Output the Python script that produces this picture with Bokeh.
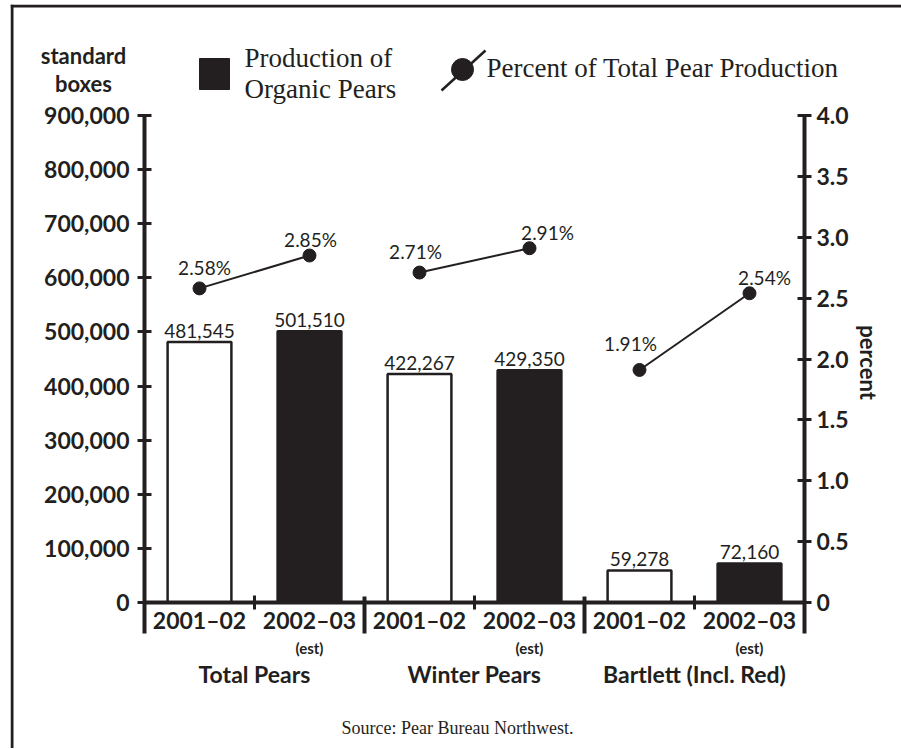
import math
from bokeh.plotting import figure
from bokeh.models import (Range1d, LinearAxis, FixedTicker,
                          NumeralTickFormatter, ColumnDataSource)
from bokeh.core.properties import value
from bokeh.embed import file_html
from bokeh.resources import INLINE

# ---------------- data ----------------
groups = ["Total Pears", "Winter Pears", "Bartlett (Incl. Red)"]
seasons = ["2001–02", "2002–03"]
season_notes = ["", "(est)"]
organic_boxes = [481545, 501510, 422267, 429350, 59278, 72160]
percent_of_total = [2.58, 2.85, 2.71, 2.91, 1.91, 2.54]
box_ticks = [0, 100000, 200000, 300000, 400000, 500000, 600000, 700000, 800000, 900000]
percent_ticks = [0, 0.5, 1.0, 1.5, 2.0, 2.5, 3.0, 3.5, 4.0]
box_max = 900000
percent_max = 4.0

# ---------------- styles / layout ----------------
INK = "#231f20"
SANS_NAME = "Lato"
SANS = value(SANS_NAME)
SERIF = value("Liberation Serif")
season_fill = {"2001–02": "white", "2002–03": INK}
pct_label_dx = [5, 1, -4, 18, -9, 15]
pct_label_dy = [-21, -16, -21, -16, -26, -16]

CX, CY = 10, 4          # canvas origin on the page
W, H = 891, 744
FL, FR = 144, 804       # page x of the two value axes
Y0, YT = 602, 115       # page y of value 0 and of the top tick
AX_BOTTOM = 633

n_cat = len(groups) * len(seasons)


def box_val(py):
    return (Y0 - py) * box_max / (Y0 - YT)


def pct_val(py):
    return (Y0 - py) * percent_max / (Y0 - YT)


def slot(px):
    return (px - FL) * n_cat / (FR - FL)


# category slot positions (one slot per group/season pair)
k = len(seasons)
cat_x = [gi * k + si + 0.5 for gi in range(len(groups)) for si in range(k)]
group_x = [gi * k + k / 2 for gi in range(len(groups))]
year_labels = [s for g in groups for s in seasons]
note_labels = [nt for g in groups for nt in season_notes]

p = figure(width=W, height=H,
           x_range=Range1d(slot(CX), slot(CX + W)),
           y_range=Range1d(box_val(CY + H), box_val(CY)),
           output_backend="svg", toolbar_location=None,
           x_axis_location=None,
           min_border_left=0, min_border_right=0,
           min_border_top=0, min_border_bottom=0)
p.styles = {"margin-left": f"{CX}px", "margin-top": f"{CY}px"}
p.extra_y_ranges = {"pct": Range1d(pct_val(CY + H), pct_val(CY)),
                    "py": Range1d(CY + H, CY)}
p.grid.visible = False
p.outline_line_color = None
p.background_fill_color = "white"
p.border_fill_color = "white"

# page frame (top and left rules)
p.segment(x0=[slot(CX), slot(CX + 1.5)], y0=[CY + 1.5, CY],
          x1=[slot(CX + W), slot(CX + 1.5)], y1=[CY + 1.5, CY + H],
          y_range_name="py", line_color=INK, line_width=3)


def style_axis(ax, standoff):
    ax.axis_line_color = INK
    ax.axis_line_width = 4
    ax.major_tick_line_color = INK
    ax.major_tick_line_width = 3
    ax.major_tick_in = 7
    ax.major_tick_out = 7
    ax.minor_tick_line_color = None
    ax.major_label_text_font = SANS_NAME
    ax.major_label_text_font_size = "23px"
    ax.major_label_text_font_style = "bold"
    ax.major_label_text_color = INK
    ax.major_label_standoff = standoff


left = p.yaxis[0]
left.ticker = FixedTicker(ticks=box_ticks)
left.formatter = NumeralTickFormatter(format="0,0")
left.bounds = (box_val(AX_BOTTOM), box_max)
left.fixed_location = 0
style_axis(left, 8)

right = LinearAxis(y_range_name="pct", ticker=FixedTicker(ticks=percent_ticks),
                   formatter=NumeralTickFormatter(format="0.0"),
                   major_label_overrides={0: "0"},
                   bounds=(pct_val(AX_BOTTOM), percent_max),
                   fixed_location=n_cat)
style_axis(right, 5)
p.add_layout(right, "right")

# ---------------- bars ----------------
src = ColumnDataSource(dict(
    x=cat_x, top=organic_boxes,
    fill=[season_fill[s] for s in year_labels],
    lab=[f"{v:,}" for v in organic_boxes],
))
p.vbar(x="x", top="top", bottom=0, width=0.58, source=src,
       fill_color="fill", line_color=INK, line_width=2.5)
p.text(x="x", y="top", text="lab", source=src, y_offset=-11,
       text_align="center", text_baseline="middle",
       text_font=SANS, text_font_size="19px", text_color=INK)

# ---------------- percent line ----------------
for gi in range(len(groups)):
    p.line(x=cat_x[k * gi:k * gi + k], y=percent_of_total[k * gi:k * gi + k],
           y_range_name="pct", line_color=INK, line_width=2)
psrc = ColumnDataSource(dict(
    x=cat_x, y=percent_of_total,
    lab=[f"{v:.2f}%" for v in percent_of_total],
    dx=pct_label_dx, dy=pct_label_dy,
))
p.scatter(x="x", y="y", source=psrc, y_range_name="pct", size=13,
          fill_color=INK, line_color=INK)
p.text(x="x", y="y", text="lab", source=psrc, y_range_name="pct",
       x_offset="dx", y_offset="dy", text_align="center",
       text_baseline="middle", text_font=SANS, text_font_size="19px",
       text_color=INK)

# ---------------- category axis (drawn) ----------------
minor_sep = [gi * k + si for gi in range(len(groups)) for si in range(1, k)]
major_sep = [gi * k for gi in range(1, len(groups))]
p.segment(x0=[0], y0=[0], x1=[n_cat], y1=[0],
          line_color=INK, line_width=4)
p.segment(x0=minor_sep, x1=minor_sep, y0=595, y1=609,
          y_range_name="py", line_color=INK, line_width=3)
p.segment(x0=major_sep, x1=major_sep, y0=596, y1=AX_BOTTOM,
          y_range_name="py", line_color=INK, line_width=4)
p.text(x=cat_x, y=619, text=year_labels, y_range_name="py",
       text_align="center", text_baseline="middle", text_font=SANS,
       text_font_size="23px", text_font_style="bold", text_color=INK)
p.text(x=cat_x, y=647, text=note_labels, y_range_name="py",
       text_align="center", text_baseline="middle", text_font=SANS,
       text_font_size="15px", text_font_style="bold", text_color=INK)
p.text(x=group_x, y=673, text=groups, y_range_name="py",
       text_align="center", text_baseline="middle", text_font=SANS,
       text_font_size="23px", text_font_style="bold", text_color=INK)

# ---------------- legend ----------------
p.quad(left=[slot(199)], right=[slot(229)], top=[58], bottom=[89],
       y_range_name="py", fill_color=INK, line_color=INK)
p.text(x=[slot(244)] * 2, y=[57, 88], text=["Production of", "Organic Pears"],
       y_range_name="py", text_align="left",
       text_baseline="middle", text_font=SERIF, text_font_size="27px",
       text_color=INK)
p.segment(x0=[slot(441)], y0=[90], x1=[slot(485)], y1=[50],
          y_range_name="py", line_color=INK, line_width=2.5)
p.scatter(x=[slot(462)], y=[69], size=22, y_range_name="py",
          fill_color=INK, line_color=INK)
p.text(x=[slot(486)], y=[67], text=["Percent of Total Pear Production"],
       y_range_name="py", text_align="left",
       text_baseline="middle", text_font=SERIF, text_font_size="27px",
       text_color=INK)

# ---------------- axis titles & source ----------------
p.text(x=[slot(83)] * 2, y=[55, 83], text=["standard", "boxes"],
       y_range_name="py", text_align="center", text_baseline="middle",
       text_font=SANS, text_font_size="22px", text_font_style="bold",
       text_color=INK)
p.text(x=[slot(868)], y=[362], text=["percent"], angle=-math.pi / 2,
       y_range_name="py", text_align="center", text_baseline="middle",
       text_font=SANS, text_font_size="22px", text_font_style="bold",
       text_color=INK)
p.text(x=[slot(457)], y=[727], text=["Source: Pear Bureau Northwest."],
       y_range_name="py", text_align="center",
       text_baseline="middle", text_font=SERIF, text_font_size="18px",
       text_color=INK)

open("out.html", "w").write(file_html(p, INLINE, title="Organic pear production"))
